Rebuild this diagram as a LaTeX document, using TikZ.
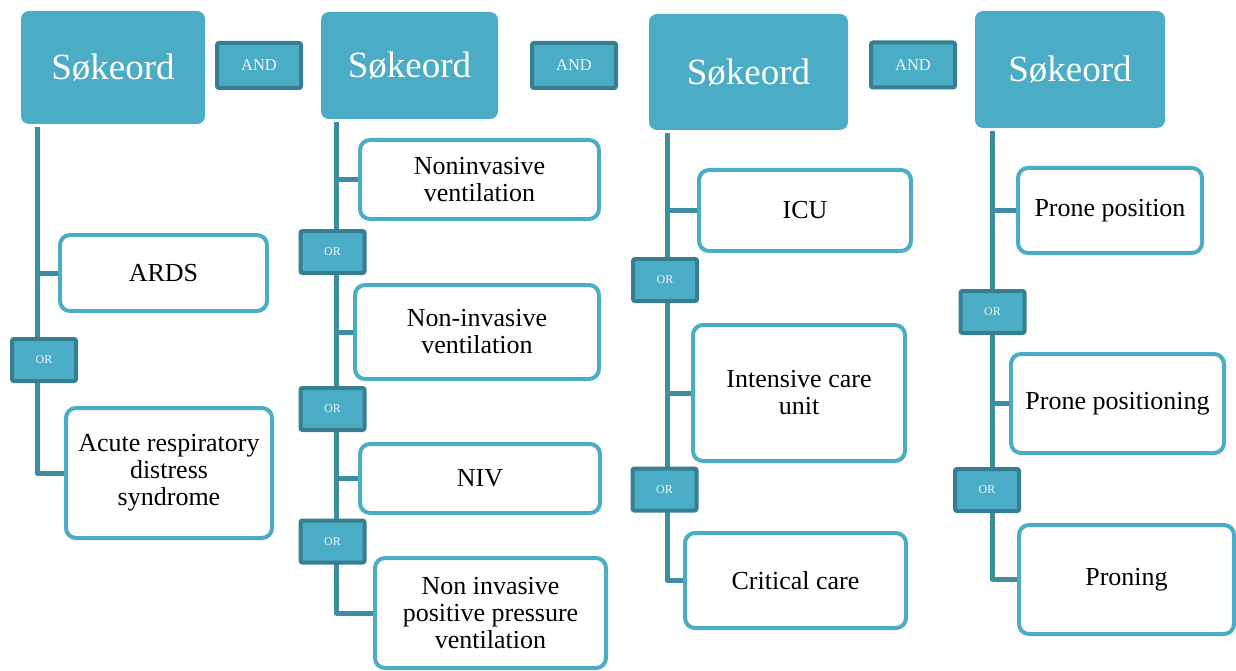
\documentclass[tikz,border=0pt]{standalone}
\usepackage{fontspec}
\setmainfont{Liberation Serif}
\usepackage{xcolor}
\usetikzlibrary{positioning}
\definecolor{accent}{HTML}{4BACC6}
\definecolor{accentdark}{HTML}{367E91}
\definecolor{trunkcol}{HTML}{3E8C9F}
\definecolor{ortext}{HTML}{EEF7FA}

\begin{document}
\begin{tikzpicture}[x=1pt, y=-1pt,
    head/.style={fill=accent, draw=none, rounded corners=8pt, text=white, font=\fontsize{37}{40}\selectfont, inner sep=0pt},
    andbox/.style={fill=accent, draw=accentdark, line width=4pt, rounded corners=2pt, text=ortext, font=\fontsize{16.5}{18}\selectfont, minimum width=84pt, minimum height=45pt, inner sep=0pt},
    orbox/.style={fill=accent, draw=accentdark, line width=4pt, rounded corners=2pt, text=ortext, font=\fontsize{12}{14}\selectfont, minimum width=64pt, minimum height=42pt, inner sep=0pt},
    term/.style={fill=white, draw=accent, line width=4pt, rounded corners=10pt, align=center, font=\fontsize{26}{27}\selectfont, inner sep=0pt},
    trunk/.style={draw=trunkcol, line width=5pt, line join=round}]

    \useasboundingbox (0,0) rectangle (1236,671);

    % Search term headers
    \node[head, minimum width=184pt, minimum height=113pt] (k1) at (113,67.5) {Søkeord};
    \node[head, minimum width=177pt, minimum height=107pt] (k2) at (409.5,65.5) {Søkeord};
    \node[head, minimum width=199pt, minimum height=116pt] (k3) at (748.5,72) {Søkeord};
    \node[head, minimum width=190pt, minimum height=117pt] (k4) at (1070,69.5) {Søkeord};

    % AND operators
    \node[andbox] (and1) at (259,65.5) {AND};
    \node[andbox] (and2) at (574,65.5) {AND};
    \node[andbox] (and3) at (913,65) {AND};

    % Column 1: ARDS
    \node[term, minimum width=207pt, minimum height=76pt] (a1) at (163.5,273) {ARDS};
    \node[term, minimum width=206pt, minimum height=130pt] (a2) at (169,473) {Acute respiratory\\distress\\syndrome};

    % Column 2: ventilation
    \node[term, minimum width=239pt, minimum height=79pt] (b1) at (479.5,179.5) {Noninvasive\\ventilation};
    \node[term, minimum width=244pt, minimum height=94pt] (b2) at (477,332) {Non-invasive\\ventilation};
    \node[term, minimum width=240pt, minimum height=69pt] (b3) at (480,478.5) {NIV};
    \node[term, minimum width=231pt, minimum height=110pt] (b4) at (490.5,613) {Non invasive\\positive pressure\\ventilation};

    % Column 3: intensive care
    \node[term, minimum width=212pt, minimum height=81pt] (c1) at (805,210.5) {ICU};
    \node[term, minimum width=212pt, minimum height=136pt] (c2) at (799,393) {Intensive care\\unit};
    \node[term, minimum width=221pt, minimum height=95pt] (c3) at (795.5,580.5) {Critical care};

    % Column 4: prone position
    \node[term, minimum width=184pt, minimum height=85pt] (d1) at (1110,210.5) {Prone position};
    \node[term, minimum width=213pt, minimum height=99pt] (d2) at (1117.5,403.5) {Prone positioning};
    \node[term, minimum width=215pt, minimum height=109pt] (d3) at (1126.5,579.5) {Proning};

    % Trunk tops
    \coordinate (t1) at (37,127);
    \coordinate (t2) at (336.5,122);
    \coordinate (t3) at (667,133);
    \coordinate (t4) at (992,131);

    % Trunks and branches
    \draw[trunk] (t1) |- (a2.west);
    \draw[trunk] (t1 |- a1.west) -- (a1.west);

    \draw[trunk] (t2) |- (b4.west);
    \foreach \b in {b1,b2,b3}
        \draw[trunk] (t2 |- \b.west) -- (\b.west);

    \draw[trunk] (t3) |- (c3.west);
    \foreach \b in {c1,c2}
        \draw[trunk] (t3 |- \b.west) -- (\b.west);

    \draw[trunk] (t4) |- (d3.west);
    \foreach \b in {d1,d2}
        \draw[trunk] (t4 |- \b.west) -- (\b.west);

    % OR operators (on top of the trunks)
    \node[orbox] (o11) at (44,360) {OR};
    \node[orbox] (o21) at (332.5,252) {OR};
    \node[orbox] (o22) at (332.5,409) {OR};
    \node[orbox] (o23) at (332.5,541.5) {OR};
    \node[orbox] (o31) at (665,280) {OR};
    \node[orbox] (o32) at (664.5,489.5) {OR};
    \node[orbox] (o41) at (992.5,312) {OR};
    \node[orbox] (o42) at (987,490) {OR};

\end{tikzpicture}
\end{document}
